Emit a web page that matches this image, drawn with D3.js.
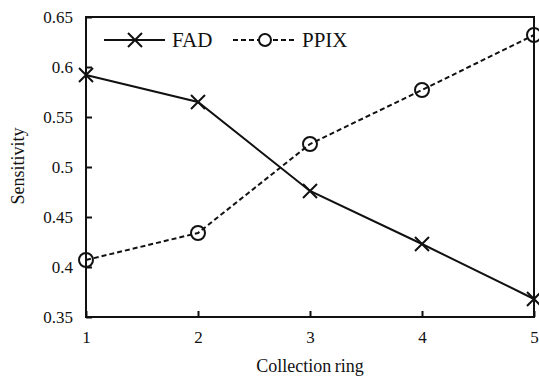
<!DOCTYPE html>
<html>
<head>
<script src="https://d3js.org/d3.v7.min.js"></script>
<style>
  body { margin: 0; background: white; }
  svg text { font-family: "Liberation Serif", "Times New Roman", serif !important; fill: #111; }
</style>
</head>
<body>
<svg id="chart" width="539" height="379"></svg>
<script>
// data
const rings = [1, 2, 3, 4, 5];
const fad = [0.592, 0.565, 0.476, 0.423, 0.368];
const ppix = [0.407, 0.434, 0.523, 0.577, 0.632];
const yTicks = [0.35, 0.4, 0.45, 0.5, 0.55, 0.6, 0.65];

const svg = d3.select("#chart");
const m = {left: 86, right: 5, top: 17, bottom: 62};
const w = 539 - m.left - m.right, h = 379 - m.top - m.bottom;

const x = d3.scaleLinear([1, 5], [0, w]);
const y = d3.scaleLinear([0.35, 0.65], [h, 0]);

const g = svg.append("g").attr("transform", `translate(${m.left},${m.top})`);

// frame
g.append("rect").attr("width", w).attr("height", h)
  .attr("fill", "none").attr("stroke", "#111").attr("stroke-width", 2);

// axes with inward ticks
const xAxis = g.append("g").attr("transform", `translate(0,${h})`)
  .call(d3.axisBottom(x).tickValues(rings).tickSize(-6).tickPadding(14).tickFormat(d3.format("d")));
const yAxis = g.append("g")
  .call(d3.axisLeft(y).tickValues(yTicks).tickSize(-6).tickPadding(13).tickFormat(d => String(d)));
[xAxis, yAxis].forEach(a => {
  a.attr("font-family", null).attr("font-size", null);
  a.select(".domain").remove();
  a.selectAll("line").attr("stroke", "#111").attr("stroke-width", 2);
  a.selectAll("text").style("font-size", "17px").attr("fill", "#111");
});

const line = d3.line().x((d, i) => x(rings[i])).y(d => y(d));

g.append("path").datum(fad).attr("d", line)
  .attr("fill", "none").attr("stroke", "#111").attr("stroke-width", 2);
g.append("path").datum(ppix).attr("d", line)
  .attr("fill", "none").attr("stroke", "#111").attr("stroke-width", 2).attr("stroke-dasharray", "5,3");

function cross(sel, cx, cy, s) {
  sel.append("path")
    .attr("d", `M${cx - s},${cy - s}L${cx + s},${cy + s}M${cx - s},${cy + s}L${cx + s},${cy - s}`)
    .attr("stroke", "#111").attr("stroke-width", 2);
}
fad.forEach((d, i) => cross(g, x(rings[i]), y(d), 7));

g.selectAll("circle.pp").data(ppix).join("circle").attr("class", "pp")
  .attr("cx", (d, i) => x(rings[i])).attr("cy", d => y(d)).attr("r", 7)
  .attr("fill", "none").attr("stroke", "#111").attr("stroke-width", 2);

// legend
const lg = svg.append("g");
lg.append("line").attr("x1", 104).attr("x2", 165).attr("y1", 40).attr("y2", 40)
  .attr("stroke", "#111").attr("stroke-width", 2);
cross(lg, 135, 40, 7);
lg.append("text").attr("x", 172).attr("y", 47).style("font-size", "21px").text("FAD");
lg.append("line").attr("x1", 233).attr("x2", 296).attr("y1", 40).attr("y2", 40)
  .attr("stroke", "#111").attr("stroke-width", 2).attr("stroke-dasharray", "5,3");
lg.append("circle").attr("cx", 265).attr("cy", 40).attr("r", 6)
  .attr("fill", "white").attr("stroke", "#111").attr("stroke-width", 2);
lg.append("text").attr("x", 302).attr("y", 47).style("font-size", "21px").text("PPIX");

// axis titles
svg.append("text").attr("x", 310).attr("y", 372).attr("text-anchor", "middle")
  .style("font-size", "18px").style("word-spacing", "-1px").text("Collection ring");
svg.append("text").attr("transform", "translate(24,166) rotate(-90)").attr("text-anchor", "middle")
  .style("font-size", "18px").text("Sensitivity");
</script>
</body>
</html>
